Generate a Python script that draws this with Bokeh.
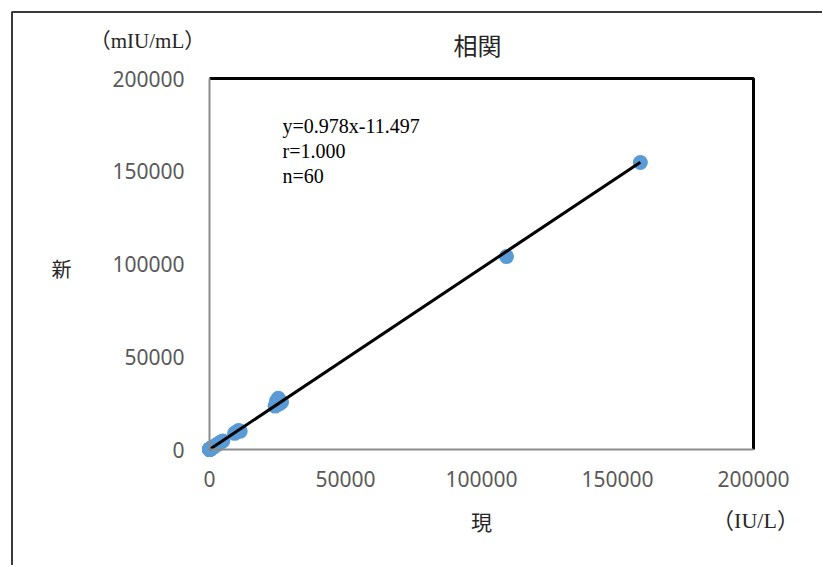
from bokeh.plotting import figure
from bokeh.models import Range1d, FixedTicker, BasicTickFormatter, Label, LinearAxis
from bokeh.embed import file_html
from bokeh.resources import INLINE

# ---- data ----
title_text = "相関"
x_label = "現"
y_label = "新"
x_unit = "（IU/L）"
y_unit = "（mIU/mL）"
stats_lines = ["y=0.978x-11.497", "r=1.000", "n=60"]
slope = 0.978
intercept = -11.497
ticks = [0, 50000, 100000, 150000, 200000]

current_vals = [158400, 109200,
                24100, 24600, 25300, 25900, 26500, 25100,
                9200, 9900, 10700, 11300,
                4900, 4100, 3300, 2600, 1600,
                12, 25, 40, 55, 70, 88, 105, 120, 140, 160,
                185, 210, 240, 270, 300, 330, 360, 400, 440, 480,
                520, 560, 610, 660, 710, 760, 820, 880, 940, 1000,
                1080, 1160, 1240, 1320, 8, 18, 30, 48, 65, 95, 130, 175, 230]
new_vals = [154700, 104000,
            23400, 26100, 27600, 24800, 25600, 24300,
            8700, 9400, 10200, 9900,
            4600, 4000, 3100, 2500, 1500,
            10, 22, 38, 52, 66, 85, 100, 118, 135, 158,
            178, 205, 232, 265, 290, 325, 350, 388, 430, 470,
            505, 548, 595, 642, 695, 740, 800, 860, 915, 975,
            1050, 1135, 1210, 1290, 6, 16, 27, 45, 62, 90, 126, 170, 224]

# ---- layout: the frame fills the canvas; axes sit at data 0 ----
W, H = 822, 565
PX_LEFT, PX_RIGHT, PX_TOP, PX_BOTTOM = 209, 753, 78, 449   # plot box in pixels
ux = (ticks[-1] - ticks[0]) / (PX_RIGHT - PX_LEFT)
uy = (ticks[-1] - ticks[0]) / (PX_BOTTOM - PX_TOP)

def dx(px):
    return ticks[0] + (px - PX_LEFT) * ux

def dy(py):
    return ticks[0] + (PX_BOTTOM - py) * uy

p = figure(width=W, height=H, output_backend="svg", toolbar_location=None,
           x_range=Range1d(dx(0), dx(W)), y_range=Range1d(dy(H), dy(0)),
           x_axis_location=None, y_axis_location=None,
           min_border_left=0, min_border_right=0, min_border_top=0, min_border_bottom=0)
p.outline_line_color = None
p.xgrid.visible = False
p.ygrid.visible = False
p.background_fill_color = "white"
p.border_fill_color = "white"

xax = LinearAxis(fixed_location=ticks[0], bounds=(ticks[0], ticks[-1]))
yax = LinearAxis(fixed_location=ticks[0], bounds=(ticks[0], ticks[-1]))
for ax in (xax, yax):
    ax.ticker = FixedTicker(ticks=ticks)
    ax.formatter = BasicTickFormatter(use_scientific=False)
    ax.major_tick_line_color = None
    ax.minor_tick_line_color = None
    ax.major_tick_out = 0
    ax.major_tick_in = 0
    ax.axis_line_color = "#8c8c8c"
    ax.axis_line_width = 2
    ax.major_label_text_font = "Noto Sans"
    ax.major_label_text_font_size = "21px"
    ax.major_label_text_color = "#595959"
yax.major_label_standoff = 25
xax.major_label_standoff = 21
p.add_layout(xax, "below")
p.add_layout(yax, "left")

# outer chart border (only its left/top edges fall inside the picture)
p.line([dx(11.5), dx(11.5), dx(W + 50)], [dy(H + 50), dy(11.5), dy(11.5)],
       line_color="#3a3a3a", line_width=2)

# top and right plot-area borders
p.line([ticks[0], ticks[-1], ticks[-1]], [ticks[-1], ticks[-1], ticks[0]],
       line_color="black", line_width=3)

# points
p.scatter(current_vals, new_vals, size=15, fill_color="#5B9BD5", line_color=None)

# regression line
x_end = max(current_vals)
p.line([0, x_end], [intercept, slope * x_end + intercept], line_color="black", line_width=3)

cjk = "Noto Sans CJK JP"
serif = "Liberation Serif, Noto Sans CJK JP"

def lab(px, py, text, font, size, color="#262626", align="center"):
    p.add_layout(Label(x=dx(px), y=dy(py), text=text, text_font=font, text_font_size=size,
                       text_color=color, text_align=align, text_baseline="middle"))

lab(477, 44, title_text, cjk, "24px")
lab(61, 268, y_label, cjk, "20px")
lab(481, 520, x_label, cjk, "21px")
lab(147, 40, y_unit, serif, "21px")
lab(755, 520, x_unit, serif, "22px")
for t, py in zip(stats_lines, [125, 150, 175]):
    lab(282, py, t, serif, "20px", color="black", align="left")

open("out.html", "w").write(file_html(p, INLINE))
